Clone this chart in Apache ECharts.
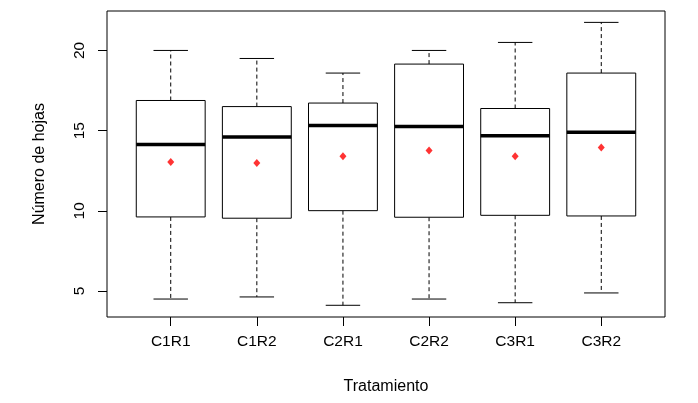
<!DOCTYPE html>
<html>
<head>
<meta charset="utf-8">
<script src="https://cdn.jsdelivr.net/npm/echarts@6/dist/echarts.min.js"></script>
<style>html,body{margin:0;padding:0;background:#fff;}#c{width:698px;height:403px;}</style>
</head>
<body>
<div id="c"></div>
<script>
var categories = ['C1R1', 'C1R2', 'C2R1', 'C2R2', 'C3R1', 'C3R2'];
var lowerWhisker = [4.5, 4.63, 4.11, 4.5, 4.27, 4.88];
var q1 = [9.62, 9.54, 10.01, 9.6, 9.72, 9.68];
var median = [14.13, 14.61, 15.32, 15.26, 14.68, 14.9];
var q3 = [16.88, 16.5, 16.72, 19.15, 16.38, 18.59];
var upperWhisker = [20.0, 19.5, 18.59, 20.0, 20.5, 21.75];
var means = [13.05, 12.99, 13.41, 13.76, 13.41, 13.95];
var yTicks = [5, 10, 15, 20];

var positions = categories.map(function (c, i) { return i + 1; });
var boxData = categories.map(function (c, i) {
  return [positions[i], lowerWhisker[i], q1[i], median[i], q3[i], upperWhisker[i]];
});
var meanData = categories.map(function (c, i) { return [positions[i], means[i]]; });

var chart = echarts.init(document.getElementById('c'));
var font = 'Liberation Sans, Arial, sans-serif';

function renderBox(params, api) {
  var x = api.value(0);
  var lo = api.coord([x, api.value(1)]);
  var b1 = api.coord([x, api.value(2)]);
  var md = api.coord([x, api.value(3)]);
  var b3 = api.coord([x, api.value(4)]);
  var hi = api.coord([x, api.value(5)]);
  var w = api.size([0.8, 0])[0];
  var cx = lo[0];
  var dash = { stroke: '#000', lineWidth: 1, lineDash: [4, 3] };
  var solid = { stroke: '#000', lineWidth: 1 };
  return {
    type: 'group',
    children: [
      { type: 'line', shape: { x1: cx, y1: b3[1], x2: cx, y2: hi[1] }, style: dash },
      { type: 'line', shape: { x1: cx, y1: b1[1], x2: cx, y2: lo[1] }, style: dash },
      { type: 'line', shape: { x1: cx - w / 4, y1: hi[1], x2: cx + w / 4, y2: hi[1] }, style: solid },
      { type: 'line', shape: { x1: cx - w / 4, y1: lo[1], x2: cx + w / 4, y2: lo[1] }, style: solid },
      { type: 'rect', shape: { x: cx - w / 2, y: b3[1], width: w, height: b1[1] - b3[1] },
        style: { fill: '#fff', stroke: '#000', lineWidth: 1 } },
      { type: 'line', shape: { x1: cx - w / 2, y1: md[1], x2: cx + w / 2, y2: md[1] },
        style: { stroke: '#000', lineWidth: 3.5 } }
    ]
  };
}

chart.setOption({
  animation: false,
  backgroundColor: '#fff',
  grid: { left: 107, right: 33, top: 11, bottom: 86, show: true, borderColor: '#000', borderWidth: 1, backgroundColor: 'transparent' },
  xAxis: {
    type: 'value', min: 0.26, max: 6.74,
    name: 'Tratamiento', nameLocation: 'middle', nameGap: 62,
    nameTextStyle: { color: '#000', fontSize: 16, fontFamily: font },
    axisLine: { show: false },
    splitLine: { show: false },
    axisTick: { show: true, length: 9, lineStyle: { color: '#000' }, customValues: positions },
    axisLabel: { show: true, color: '#000', fontSize: 15.5, fontFamily: font, margin: 17,
      customValues: positions,
      formatter: function (v) { return categories[Math.round(v) - 1]; } }
  },
  yAxis: {
    type: 'value', min: 3.38, max: 22.46,
    name: 'Número de hojas', nameLocation: 'middle', nameGap: 59, nameRotate: 90,
    nameTextStyle: { color: '#000', fontSize: 16, fontFamily: font },
    axisLine: { show: false },
    splitLine: { show: false },
    axisTick: { show: true, length: 9, lineStyle: { color: '#000' }, customValues: yTicks },
    axisLabel: { show: true, color: '#000', fontSize: 15.5, fontFamily: font, rotate: 90, margin: 19,
      customValues: yTicks }
  },
  series: [
    { type: 'custom', renderItem: renderBox, data: boxData, encode: { x: 0, y: [1, 2, 3, 4, 5] }, z: 2 },
    { type: 'scatter', data: meanData, symbol: 'diamond', symbolSize: [7, 8], itemStyle: { color: '#ff0000' }, z: 3 }
  ]
});
</script>
</body>
</html>
